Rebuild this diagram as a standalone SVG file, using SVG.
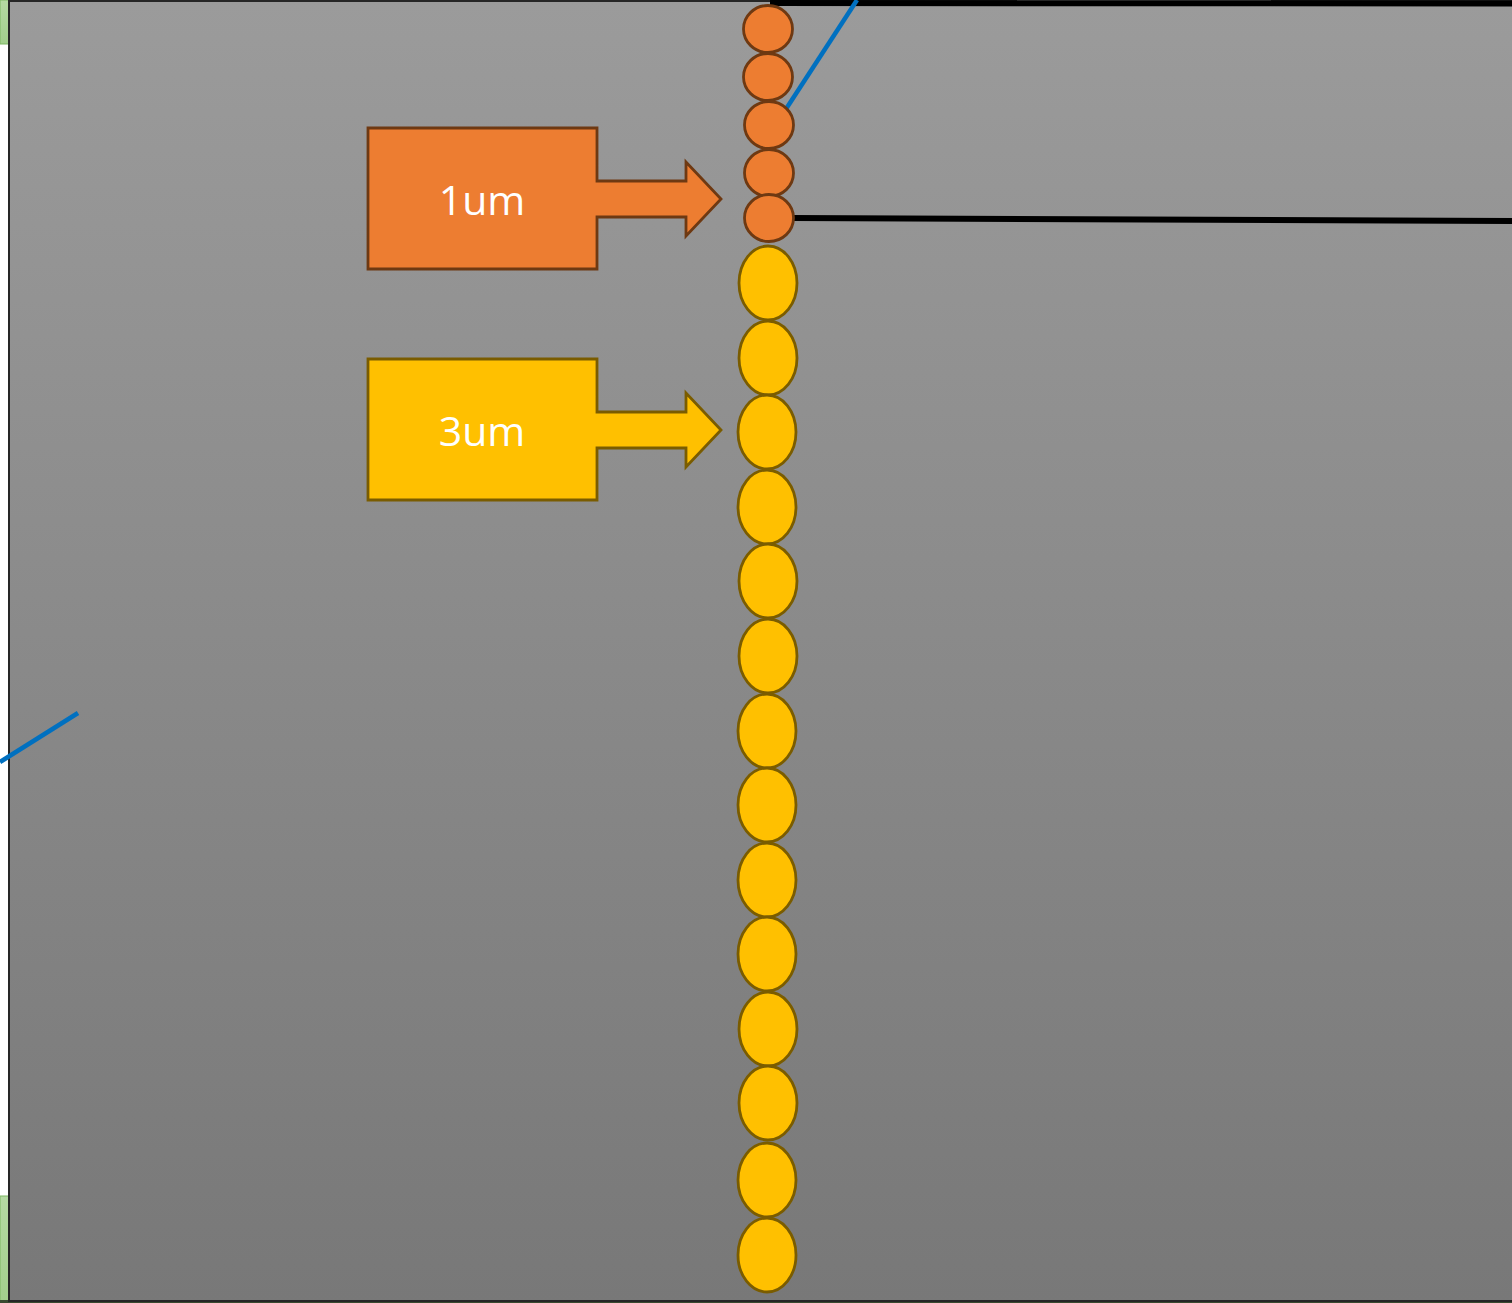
<svg xmlns="http://www.w3.org/2000/svg" width="1512" height="1303" viewBox="0 0 1512 1303">
<defs>
<linearGradient id="bg" x1="0" y1="0" x2="0" y2="1">
<stop offset="0" stop-color="#9b9b9b"/>
<stop offset="1" stop-color="#787878"/>
</linearGradient>
<linearGradient id="gr" x1="0" y1="0" x2="0" y2="1">
<stop offset="0" stop-color="#b5d9a3"/>
<stop offset="1" stop-color="#a2cf8c"/>
</linearGradient>
</defs>
<style>
.o{fill:#ED7D31;stroke:#6e3912;stroke-width:2.8}
.y{fill:#FFC000;stroke:#7a5c00;stroke-width:2.8}
.t{font-family:"Open Sans","Noto Sans",sans-serif;font-size:41px;fill:#ffffff;text-anchor:middle}
.blk{stroke:#000;stroke-width:6;fill:none}
.blu{stroke:#0070C0;stroke-width:4.5;fill:none}
</style>
<rect width="1512" height="1303" fill="#ffffff"/>
<rect x="0" y="0" width="9" height="44" fill="url(#gr)" stroke="#7fb865" stroke-width="1"/>
<rect x="0" y="1196" width="9" height="107" fill="url(#gr)" stroke="#7fb865" stroke-width="1"/>
<rect x="0" y="1300" width="1512" height="3" fill="#3a4a30"/>
<rect id="panel" x="9" y="1" width="1510" height="1300" fill="url(#bg)" stroke="#262626" stroke-width="2"/>
<g id="connectors">
<line class="blk" x1="770" y1="3" x2="1512" y2="3.5"/>
<line class="blk" x1="793" y1="218" x2="1512" y2="221"/>
<line class="blu" x1="786" y1="109" x2="857" y2="0"/>
<line class="blu" x1="0" y1="762" x2="78" y2="713"/>
</g>
<g id="orange-beads">
<ellipse class="o" cx="768" cy="29" rx="24.5" ry="23.5"/>
<ellipse class="o" cx="768" cy="77" rx="24.5" ry="23.5"/>
<ellipse class="o" cx="769" cy="125" rx="24.5" ry="23.5"/>
<ellipse class="o" cx="769" cy="173" rx="24.5" ry="23.5"/>
<ellipse class="o" cx="769" cy="218" rx="24.5" ry="23.5"/>
</g>
<g id="yellow-beads">
<ellipse class="y" cx="768" cy="283" rx="29" ry="37"/>
<ellipse class="y" cx="768" cy="358" rx="29" ry="37"/>
<ellipse class="y" cx="767" cy="432" rx="29" ry="37"/>
<ellipse class="y" cx="767" cy="507" rx="29" ry="37"/>
<ellipse class="y" cx="768" cy="581" rx="29" ry="37"/>
<ellipse class="y" cx="768" cy="656" rx="29" ry="37"/>
<ellipse class="y" cx="767" cy="731" rx="29" ry="37"/>
<ellipse class="y" cx="767" cy="805" rx="29" ry="37"/>
<ellipse class="y" cx="767" cy="880" rx="29" ry="37"/>
<ellipse class="y" cx="767" cy="954" rx="29" ry="37"/>
<ellipse class="y" cx="768" cy="1029" rx="29" ry="37"/>
<ellipse class="y" cx="768" cy="1103" rx="29" ry="37"/>
<ellipse class="y" cx="767" cy="1180" rx="29" ry="37"/>
<ellipse class="y" cx="767" cy="1255" rx="29" ry="37"/>
</g>
<g id="callout-1um">
<path class="o" d="M368,128 H597 V181 H686 V162 L721,199 L686,236 V217 H597 V269 H368 Z"/>
<text class="t" x="482" y="215">1um</text>
</g>
<g id="callout-3um">
<path class="y" d="M368,359 H597 V412 H686 V393 L721,430 L686,467 V448 H597 V500 H368 Z"/>
<text class="t" x="482" y="446">3um</text>
</g>
</svg>
